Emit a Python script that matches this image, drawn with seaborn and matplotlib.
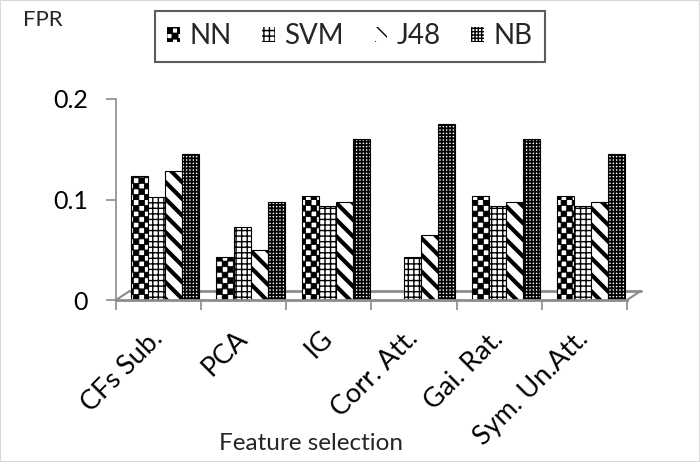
import numpy as np
import pandas as pd
import matplotlib
matplotlib.use("Agg")
import matplotlib.pyplot as plt
import matplotlib.hatch as mhatch
from matplotlib.path import Path
from matplotlib.patches import Patch, Rectangle
import seaborn as sns

categories = ["CFs Sub.", "PCA", "IG", "Corr. Att.", "Gai. Rat.", "Sym. Un.Att."]
series = ["NN", "SVM", "J48", "NB"]
nn = [0.123, 0.043, 0.103, 0.0, 0.103, 0.103]
svm = [0.102, 0.073, 0.094, 0.043, 0.094, 0.094]
j48 = [0.128, 0.050, 0.098, 0.065, 0.098, 0.098]
nb = [0.145, 0.098, 0.160, 0.175, 0.160, 0.145]
yticks = [0, 0.1, 0.2]
yticklabels = ["0", "0.1", "0.2"]


# checkerboard hatch (re-uses the 'O' hatch letter)
class CheckerHatch(mhatch.HatchPatternBase):
    def __init__(self, hatch, density):
        n = hatch.count("O") * density
        if n % 2:
            n += 1
        self.n = n
        self.num_vertices = (n * n // 2) * 5 if n else 0

    def set_vertices_and_codes(self, vertices, codes):
        n = self.n
        s = 1.0 / n
        k = 0
        for i in range(n):
            for j in range(n):
                if (i + j) % 2 == 0:
                    x0, y0 = i * s, j * s
                    vertices[k:k + 5] = [[x0, y0], [x0 + s, y0], [x0 + s, y0 + s],
                                         [x0, y0 + s], [x0, y0]]
                    codes[k] = Path.MOVETO
                    codes[k + 1:k + 4] = Path.LINETO
                    codes[k + 4] = Path.CLOSEPOLY
                    k += 5


mhatch._hatch_types = [CheckerHatch if t is mhatch.LargeCircles else t
                       for t in mhatch._hatch_types]

df = pd.DataFrame({
    "Feature": categories * 4,
    "Model": np.repeat(series, len(categories)),
    "FPR": nn + svm + j48 + nb,
})

sns.set_theme(style="white")
plt.rcParams["font.family"] = ["Lato", "DejaVu Sans"]
plt.rcParams["hatch.linewidth"] = 1.0

GRAY = "#8c8c8c"
fig = plt.figure(figsize=(7, 4.62), dpi=100)
ax = fig.add_axes([116 / 700, 1 - 300 / 462, 511 / 700, 201 / 462])

sns.barplot(data=df, x="Feature", y="FPR", hue="Model", order=categories,
            hue_order=series, palette=["white"] * 4, saturation=1,
            edgecolor="black", linewidth=0.8, width=0.8, ax=ax, legend=False)

hatches = {"NN": "OOO", "SVM": "+++", "J48": "\\\\", "NB": "+++++"}
hlw = {"NN": 0.6, "SVM": 1.0, "J48": 3.0, "NB": 1.3}
for container, s in zip(ax.containers, series):
    for p in container:
        p.set_hatch(hatches[s])
        if hasattr(p, "set_hatch_linewidth"):
            p.set_hatch_linewidth(hlw[s])
        p.set_x(p.get_x() + 0.08)
        p.set_zorder(2)
        if p.get_height() == 0:
            p.set_visible(False)

ax.set_xlim(-0.5, 5.5)
ax.set_ylim(0, 0.2)
ax.set_yticks(yticks)
ax.set_yticklabels(yticklabels)
ax.tick_params(axis="y", left=True, length=7, width=1.2, color=GRAY, pad=13,
               labelsize=18, labelcolor="black")
ax.set_xticks(range(len(categories)))
ax.set_xticklabels(categories)
ax.set_xticks(np.arange(-0.5, len(categories), 1), minor=True)
ax.tick_params(axis="x", which="major", bottom=False, length=0, pad=25,
               labelsize=19.5, labelcolor="black")
ax.tick_params(axis="x", which="minor", bottom=True, length=7, width=1.2, color=GRAY)
for lab in ax.get_xticklabels():
    lab.set_rotation(45)
    lab.set_ha("right")
    lab.set_va("center")
    lab.set_rotation_mode("anchor")
ax.set_xlabel("")
ax.set_ylabel("")

for s in ["top", "right"]:
    ax.spines[s].set_visible(False)
ax.spines["left"].set_color(GRAY)
ax.spines["left"].set_linewidth(1.2)
ax.spines["bottom"].set_color(GRAY)
ax.spines["bottom"].set_linewidth(2)

# 3D-like floor
dx, dy = 0.027, 0.045
ax.plot([dx, 1 + dx], [dy, dy], transform=ax.transAxes, color=GRAY, lw=2,
        clip_on=False, zorder=0.5)
ax.plot([0, dx], [0, dy], transform=ax.transAxes, color=GRAY, lw=1.5,
        clip_on=False, zorder=0.5)
ax.plot([1, 1 + dx], [0, dy], transform=ax.transAxes, color=GRAY, lw=1.5,
        clip_on=False, zorder=0.5)

fig.text(311 / 700, 1 - 444 / 462, "Feature selection", ha="center", va="center",
         fontsize=17.5)
fig.text(23 / 700, 1 - 20 / 462, "FPR", ha="left", va="center", fontsize=16)

handles = [Patch(facecolor="white", edgecolor="black", hatch=hatches[s], lw=0)
           for s in series]
leg = fig.legend(handles, series, loc="center", bbox_to_anchor=(350 / 700, 1 - 36.5 / 462),
                 ncol=4, fontsize=20, frameon=True, fancybox=False,
                 edgecolor="#333333", handlelength=0.45, handleheight=0.45,
                 handletextpad=0.35, columnspacing=1.1, borderpad=0.45)
leg.get_frame().set_linewidth(1.5)

fig.patches.append(Rectangle((0, 0), 1, 1, transform=fig.transFigure, fill=False,
                             edgecolor="#d9d9d9", lw=1.5))

fig.savefig("out.png", dpi=100)
